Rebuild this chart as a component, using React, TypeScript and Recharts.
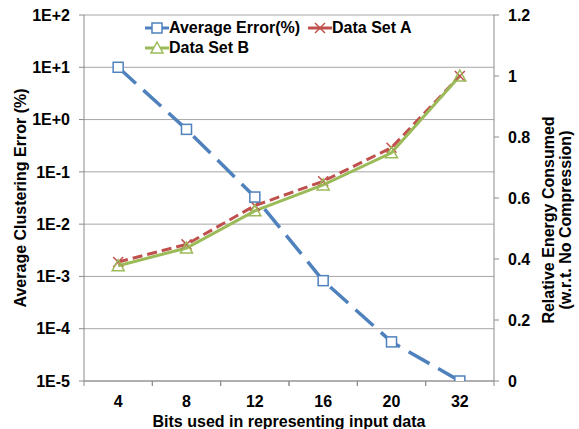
import React from "react";
import {
  ComposedChart,
  Line,
  XAxis,
  YAxis,
  CartesianGrid,
} from "recharts";

const CATEGORIES = ["4", "8", "12", "16", "20", "32"];
const AVG_ERROR = [10, 0.65, 0.033, 0.00083, 0.000056, 0.00001];
const DATA_SET_A = [0.39, 0.448, 0.575, 0.655, 0.765, 1.0];
const DATA_SET_B = [0.378, 0.436, 0.558, 0.643, 0.748, 1.0];
const LEFT_TICKS = [1e-5, 1e-4, 1e-3, 1e-2, 1e-1, 1, 10, 100];
const RIGHT_TICKS = [0, 0.2, 0.4, 0.6, 0.8, 1, 1.2];

const BLUE = "#4F81BD";
const RED = "#C0504D";
const GREEN = "#9BBB59";
const AXIS = "#8C8C8C";
const GRID = "#A6A6A6";
const FONT = '"Liberation Sans", Arial, sans-serif';

const W = 579;
const H = 429;
const LEFT_W = 84;
const RIGHT_W = 85;
const X_H = 48;
const TOP = 15;

const data = CATEGORIES.map((bits, i) => ({
  bits,
  avg: AVG_ERROR[i],
  a: DATA_SET_A[i],
  b: DATA_SET_B[i],
}));

const fmtExp = (v: number) => {
  const e = Math.round(Math.log10(v));
  return "1E" + (e >= 0 ? "+" : "-") + Math.abs(e);
};

const textStyle = { fontFamily: FONT, fontWeight: 700, fontSize: 16, fill: "#000" };

const Square = (p: any) => (
  <rect key={p.key} x={p.cx - 5} y={p.cy - 5} width={10} height={10}
    fill="#fff" stroke={BLUE} strokeWidth={1.5} />
);

const Cross = (p: any) => (
  <g key={p.key} stroke={RED} strokeWidth={1.5}>
    <line x1={p.cx - 5} y1={p.cy - 5} x2={p.cx + 5} y2={p.cy + 5} />
    <line x1={p.cx - 5} y1={p.cy + 5} x2={p.cx + 5} y2={p.cy - 5} />
  </g>
);

const Triangle = (p: any) => (
  <path key={p.key}
    d={`M${p.cx},${p.cy - 6} L${p.cx + 6},${p.cy + 5} L${p.cx - 6},${p.cy + 5} Z`}
    fill="none" stroke={GREEN} strokeWidth={1.5} />
);

const XTick = (props: any) => {
  const { x, y, payload } = props;
  const half = (W - LEFT_W - RIGHT_W) / CATEGORIES.length / 2;
  return (
    <g>
      <line x1={x - half} x2={x - half} y1={y} y2={y + 5} stroke={AXIS} />
      <line x1={x + half} x2={x + half} y1={y} y2={y + 5} stroke={AXIS} />
      <text x={x} y={y + 26} textAnchor="middle" style={textStyle}>
        {payload.value}
      </text>
    </g>
  );
};

const LegendItem = ({ color, marker, label }: any) => (
  <div style={{ display: "flex", alignItems: "center", height: 20, width: 163 }}>
    <svg width={24} height={20}>
      <line x1={0} x2={24} y1={10} y2={10} stroke={color} strokeWidth={3} />
      {marker}
    </svg>
    <span>{label}</span>
  </div>
);

export default function App() {
  return (
    <div style={{ position: "absolute", left: 0, top: 0, width: W, height: H, background: "#fff" }}>
      <ComposedChart width={W} height={H} data={data}
        margin={{ top: TOP, right: 0, bottom: 0, left: 0 }}>
        <CartesianGrid yAxisId="left" vertical={false} stroke={GRID} />
        <XAxis dataKey="bits" scale="band" height={X_H} stroke={AXIS} tickLine={false}
          tickSize={0} tickMargin={0} tick={<XTick />} interval={0}
          label={{
            content: (p: any) => (
              <text x={p.viewBox.x + p.viewBox.width / 2} y={p.viewBox.y + 46}
                textAnchor="middle" style={textStyle}>
                Bits used in representing input data
              </text>
            ),
          }} />
        <YAxis yAxisId="left" scale="log" type="number" domain={[1e-5, 100]}
          ticks={LEFT_TICKS} allowDataOverflow width={LEFT_W} stroke={AXIS}
          tickSize={5} tickMargin={9} tickFormatter={fmtExp}
          tick={textStyle}
          label={{
            content: (p: any) => {
              const cx = p.viewBox.x + 20;
              const cy = p.viewBox.y + p.viewBox.height / 2;
              return (
                <text x={cx} y={cy} textAnchor="middle" dominantBaseline="central"
                  transform={`rotate(-90 ${cx} ${cy})`} style={textStyle}>
                  Average Clustering Error (%)
                </text>
              );
            },
          }} />
        <YAxis yAxisId="right" orientation="right" type="number" domain={[0, 1.2]}
          ticks={RIGHT_TICKS} width={RIGHT_W} stroke={AXIS} tickSize={5}
          tickMargin={9} tick={textStyle}
          label={{
            content: (p: any) => {
              const cx = p.viewBox.x + 63;
              const cy = p.viewBox.y + 205;
              return (
                <text transform={`rotate(-90 ${cx} ${cy})`} style={textStyle}>
                  <tspan x={cx} y={cy - 3} textAnchor="middle">Relative Energy Consumed</tspan>
                  <tspan x={cx} y={cy + 14} textAnchor="middle">(w.r.t. No Compression)</tspan>
                </text>
              );
            },
          }} />
        <Line yAxisId="right" dataKey="a" stroke={RED} strokeWidth={3}
          strokeDasharray="10 5" dot={Cross} isAnimationActive={false} />
        <Line yAxisId="right" dataKey="b" stroke={GREEN} strokeWidth={3}
          dot={Triangle} isAnimationActive={false} />
        <Line yAxisId="left" dataKey="avg" stroke={BLUE} strokeWidth={3.5}
          strokeDasharray="24 10" dot={Square} isAnimationActive={false} />
      </ComposedChart>
      <div style={{
        position: "absolute", left: 145, top: 18, width: 330,
        display: "flex", flexWrap: "wrap", fontFamily: FONT, fontWeight: 700,
        fontSize: 16, lineHeight: "20px",
      }}>
        <LegendItem color={BLUE} label="Average Error(%)"
          marker={<rect x={7} y={5} width={10} height={10} fill="#fff" stroke={BLUE} strokeWidth={1.5} />} />
        <LegendItem color={RED} label="Data Set A"
          marker={<g stroke={RED} strokeWidth={1.5}><line x1={7} y1={5} x2={17} y2={15} /><line x1={7} y1={15} x2={17} y2={5} /></g>} />
        <LegendItem color={GREEN} label="Data Set B"
          marker={<path d="M12,4 L18,15 L6,15 Z" fill="#fff" stroke={GREEN} strokeWidth={1.5} />} />
      </div>
    </div>
  );
}
